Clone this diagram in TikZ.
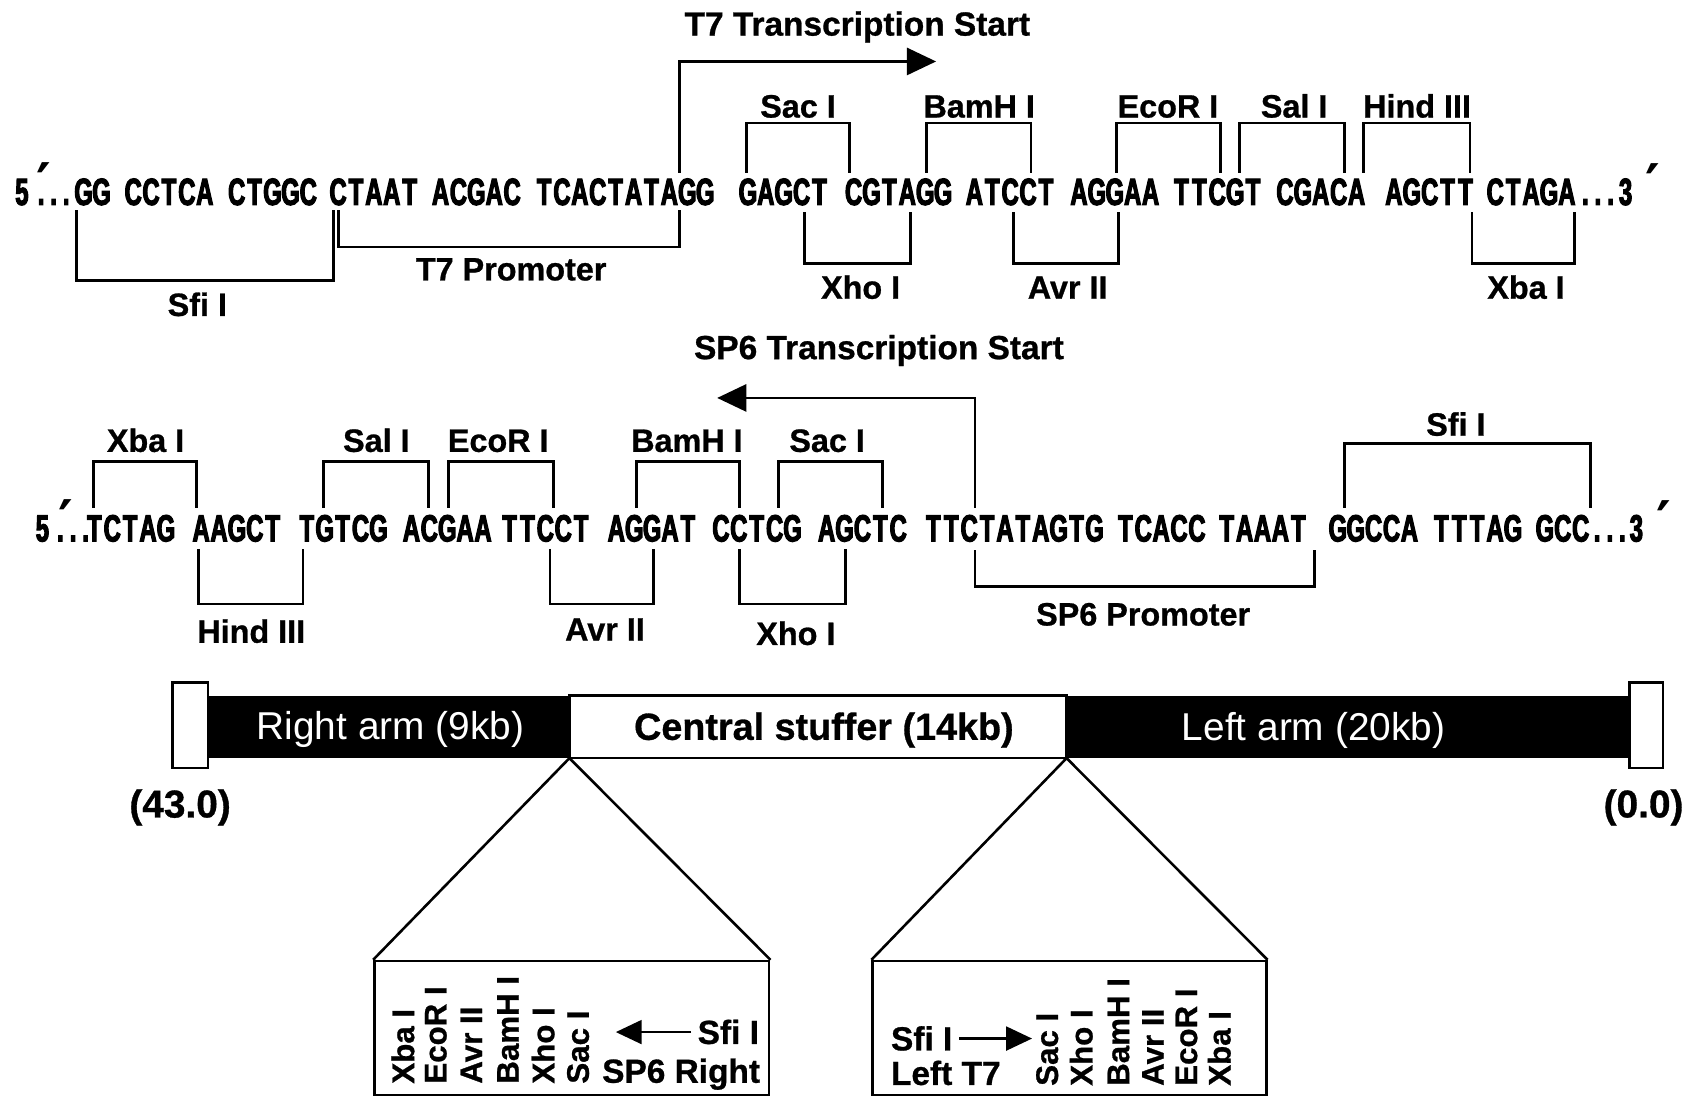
\documentclass[tikz,border=0pt]{standalone}
\usepackage{fontspec}
\usetikzlibrary{arrows.meta}
\newfontfamily\seqfam{Liberation Sans}[FakeStretch=0.63, BoldFeatures={FakeBold=3}]
\newfontfamily\labfam{Liberation Sans}[BoldFeatures={FakeBold=0.8}]
\newfontfamily\primefam{DejaVu Sans}

% set a word on a fixed character pitch
\makeatletter
\newcommand\mono[2]{\def\mono@w{#1}\mono@aux#2\@nil}
\def\mono@aux#1{\ifx#1\@nil\else\makebox[\mono@w][c]{#1}\expandafter\mono@aux\fi}
\makeatother
\newcommand\sq[1]{\mono{16.6pt}{#1}}
\newcommand\sqdots{\mono{11.7pt}{...}}

\tikzset{
  seq/.style={font=\seqfam\bfseries\fontsize{35}{38}\selectfont, inner sep=0pt, anchor=base west},
  prm/.style={font=\primefam\bfseries\fontsize{52}{56}\selectfont, inner sep=0pt, anchor=base},
  site/.style={font=\labfam\bfseries\fontsize{30}{34}\selectfont, inner sep=0pt, anchor=base},
  ttl/.style={font=\labfam\bfseries\fontsize{31}{34}\selectfont, inner sep=0pt, anchor=base},
  vsite/.style={font=\labfam\bfseries\fontsize{29}{32}\selectfont, inner sep=0pt, anchor=base west, rotate=90},
  boxlab/.style={font=\labfam\bfseries\fontsize{31}{34}\selectfont, inner sep=0pt},
  armlab/.style={font=\labfam\fontsize{36}{40}\selectfont, inner sep=0pt, anchor=base, text=white},
  stufflab/.style={font=\labfam\bfseries\fontsize{35}{40}\selectfont, inner sep=0pt, anchor=base},
  coord/.style={font=\labfam\bfseries\fontsize{36}{40}\selectfont, inner sep=0pt, anchor=base},
  bracket/.style={line width=2.6pt, line join=miter},
  startarrow/.style={line width=2.6pt, -{Triangle[length=27pt,width=25pt]}},
  smallarrow/.style={line width=2.6pt, -{Triangle[length=24pt,width=22pt]}},
  thin/.style={line width=2.4pt, line join=miter},
}
% restriction-site bracket: x-left, x-right, y at sequence, y of the bar
\newcommand\sitebracket[4]{\draw[bracket] (#1,#3) -- (#1,#4) -- (#2,#4) -- (#2,#3);}

\begin{document}
\begin{tikzpicture}[x=1pt,y=-1pt]
\useasboundingbox (0,0) rectangle (1568,1016);
\fill[white] (0,0) rectangle (1568,1016);

% ---------------- T7 strand ----------------
\node[ttl] (t7title) at (795,33) {T7 Transcription Start};
\coordinate (t7foot) at (630,160);
\coordinate (t7tip) at (868,57);
\draw[startarrow] (t7foot) |- (t7tip);

\node[seq] (a0) at (14,190) {5};
\node[seq] (a0d) at (32,190) {\sqdots};
\node[prm] (a0p) at (41,189) {′};
\node[seq] (a1) at (69,190) {\sq{GG}};
\node[seq] (a2) at (115,190) {\sq{CCTCA}};
\node[seq] (a3) at (211,190) {\sq{CTGGC}};
\node[seq] (a4) at (305,190) {\sq{CTAAT}};
\node[seq] (a5) at (400,190) {\sq{ACGAC}};
\node[seq] (a6) at (496,190) {\sq{TCACTATAGG}};
\node[seq] (a7) at (685,190) {\sq{GAGCT}};
\node[seq] (a8) at (783,190) {\sq{CGTAGG}};
\node[seq] (a9) at (895,190) {\sq{ATCCT}};
\node[seq] (a10) at (992,190) {\sq{AGGAA}};
\node[seq] (a11) at (1087,190) {\sq{TTCGT}};
\node[seq] (a12) at (1183,190) {\sq{CGACA}};
\node[seq] (a13) at (1284,190) {\sq{AGCTT}};
\node[seq] (a14) at (1378,190) {\sq{CTAGA}};
\node[seq] (a14d) at (1464,190) {\sqdots};
\node[seq] (a15) at (1501,190) {3};
\node[prm] (a15p) at (1533,190) {′};

% sites above
\sitebracket{692}{788}{160}{114}
\node[site] (sac1) at (740,109) {Sac I};
\sitebracket{859}{956}{160}{114}
\node[site] (bam1) at (908,109) {BamH I};
\sitebracket{1035}{1132}{160}{114}
\node[site] (eco1) at (1083,109) {EcoR I};
\sitebracket{1149}{1247}{160}{114}
\node[site] (sal1) at (1200,109) {Sal I};
\sitebracket{1264}{1363}{160}{114}
\node[site] (hin1) at (1314,109) {Hind III};
% sites below
\sitebracket{71}{309}{195}{260}
\node[site] (sfi1) at (183,293) {Sfi I};
\sitebracket{314}{630}{195}{229}
\node[site] (t7p) at (474,260) {T7 Promoter};
\sitebracket{746}{844}{197}{244}
\node[site] (xho1) at (798,277) {Xho I};
\sitebracket{940}{1037}{197}{244}
\node[site] (avr1) at (990,277) {Avr II};
\sitebracket{1365}{1460}{197}{244}
\node[site] (xba1) at (1415,277) {Xba I};

% ---------------- SP6 strand ----------------
\node[ttl] (sp6title) at (815,333) {SP6 Transcription Start};
\coordinate (sp6foot) at (904,471);
\coordinate (sp6tip) at (665,369);
\draw[startarrow] (sp6foot) |- (sp6tip);

\node[seq] (b0) at (33,502) {5};
\node[seq] (b0d) at (50,502) {\sqdots};
\node[prm] (b0p) at (61,501) {′};
\node[seq] (b1) at (79,502) {\sq{TCTAG}};
\node[seq] (b2) at (178,502) {\sq{AAGCT}};
\node[seq] (b3) at (276,502) {\sq{TGTCG}};
\node[seq] (b4) at (373,502) {\sq{ACGAA}};
\node[seq] (b5) at (464,502) {\sq{TTCCT}};
\node[seq] (b6) at (563,502) {\sq{AGGAT}};
\node[seq] (b7) at (660,502) {\sq{CCTCG}};
\node[seq] (b8) at (758,502) {\sq{AGCTC}};
\node[seq] (b9) at (857,502) {\sq{TTCTATAGTG}};
\node[seq] (b10) at (1035,502) {\sq{TCACC}};
\node[seq] (b11) at (1129,502) {\sq{TAAAT}};
\node[seq] (b12) at (1232,502) {\sq{GGCCA}};
\node[seq] (b13) at (1328,502) {\sq{TTTAG}};
\node[seq] (b14) at (1424,502) {\sq{GCC}};
\node[seq] (b14d) at (1475,502) {\sqdots};
\node[seq] (b15) at (1511,502) {3};
\node[prm] (b15p) at (1543,502) {′};

% sites above
\sitebracket{87}{182}{471}{428}
\node[site] (xba2) at (135,419) {Xba I};
\sitebracket{300}{397}{471}{428}
\node[site] (sal2) at (349,419) {Sal I};
\sitebracket{416}{513}{471}{428}
\node[site] (eco2) at (462,419) {EcoR I};
\sitebracket{590}{686}{471}{428}
\node[site] (bam2) at (637,419) {BamH I};
\sitebracket{722}{818}{471}{428}
\node[site] (sac2) at (767,419) {Sac I};
\sitebracket{1247}{1475}{471}{411}
\node[site] (sfi2) at (1350,404) {Sfi I};
% sites below
\sitebracket{184}{281}{509}{560}
\node[site] (hin2) at (233,596) {Hind III};
\sitebracket{510}{606}{509}{560}
\node[site] (avr2) at (561,594) {Avr II};
\sitebracket{686}{784}{509}{560}
\node[site] (xho2) at (738,598) {Xho I};
\sitebracket{904}{1219}{510}{544}
\node[site] (sp6p) at (1060,580) {SP6 Promoter};

% ---------------- vector map ----------------
\fill[black] (192,645) rectangle (1512,703);
\draw[thin, fill=white] (528,645) rectangle (989,703);
\draw[thin, fill=white] (160,633) rectangle (193,712);
\draw[thin, fill=white] (1511,633) rectangle (1542,712);
\node[armlab] (rarm) at (362,686) {Right arm (9kb)};
\node[stufflab] (stuff) at (764,686) {Central stuffer (14kb)};
\node[armlab] (larm) at (1218,687) {Left arm (20kb)};
\node[coord] (c43) at (167,758) {(43.0)};
\node[coord] (c00) at (1524,758) {(0.0)};

% expanded cloning regions
\coordinate (apexR) at (528,703);
\coordinate (apexL) at (989,703);
\node[draw, thin, minimum width=366pt, minimum height=124pt, anchor=north west, inner sep=0pt] (boxR) at (346,890) {};
\node[draw, thin, minimum width=365pt, minimum height=124pt, anchor=north west, inner sep=0pt] (boxL) at (808,890) {};
\draw[thin] (boxR.north west) -- (apexR) -- (boxR.north east);
\draw[thin] (boxL.north west) -- (apexL) -- (boxL.north east);

\node[vsite] (r1) at (384,1005) {Xba I};
\node[vsite] (r2) at (414,1005) {EcoR I};
\node[vsite] (r3) at (447,1005) {Avr II};
\node[vsite] (r4) at (481,1005) {BamH I};
\node[vsite] (r5) at (514,1005) {Xho I};
\node[vsite] (r6) at (546,1005) {Sac I};
\node[boxlab, anchor=base east] (rsfi) at (704,968) {Sfi I};
\node[boxlab, anchor=base east] (rsp6) at (705,1004) {SP6 Right};
\coordinate (rtip) at (571,957);
\draw[smallarrow] (rsfi.west |- rtip) ++(-6,0) -- (rtip);

\node[boxlab, anchor=base west] (lsfi) at (826,974) {Sfi I};
\node[boxlab, anchor=base west] (lt7) at (826,1006) {Left T7};
\coordinate (ltip) at (957,963);
\draw[smallarrow] (lsfi.east |- ltip) ++(6,0) -- (ltip);
\node[vsite] (l1) at (981,1007) {Sac I};
\node[vsite] (l2) at (1013,1007) {Xho I};
\node[vsite] (l3) at (1047,1007) {BamH I};
\node[vsite] (l4) at (1079,1007) {Avr II};
\node[vsite] (l5) at (1110,1007) {EcoR I};
\node[vsite] (l6) at (1141,1007) {Xba I};
\end{tikzpicture}
\end{document}
